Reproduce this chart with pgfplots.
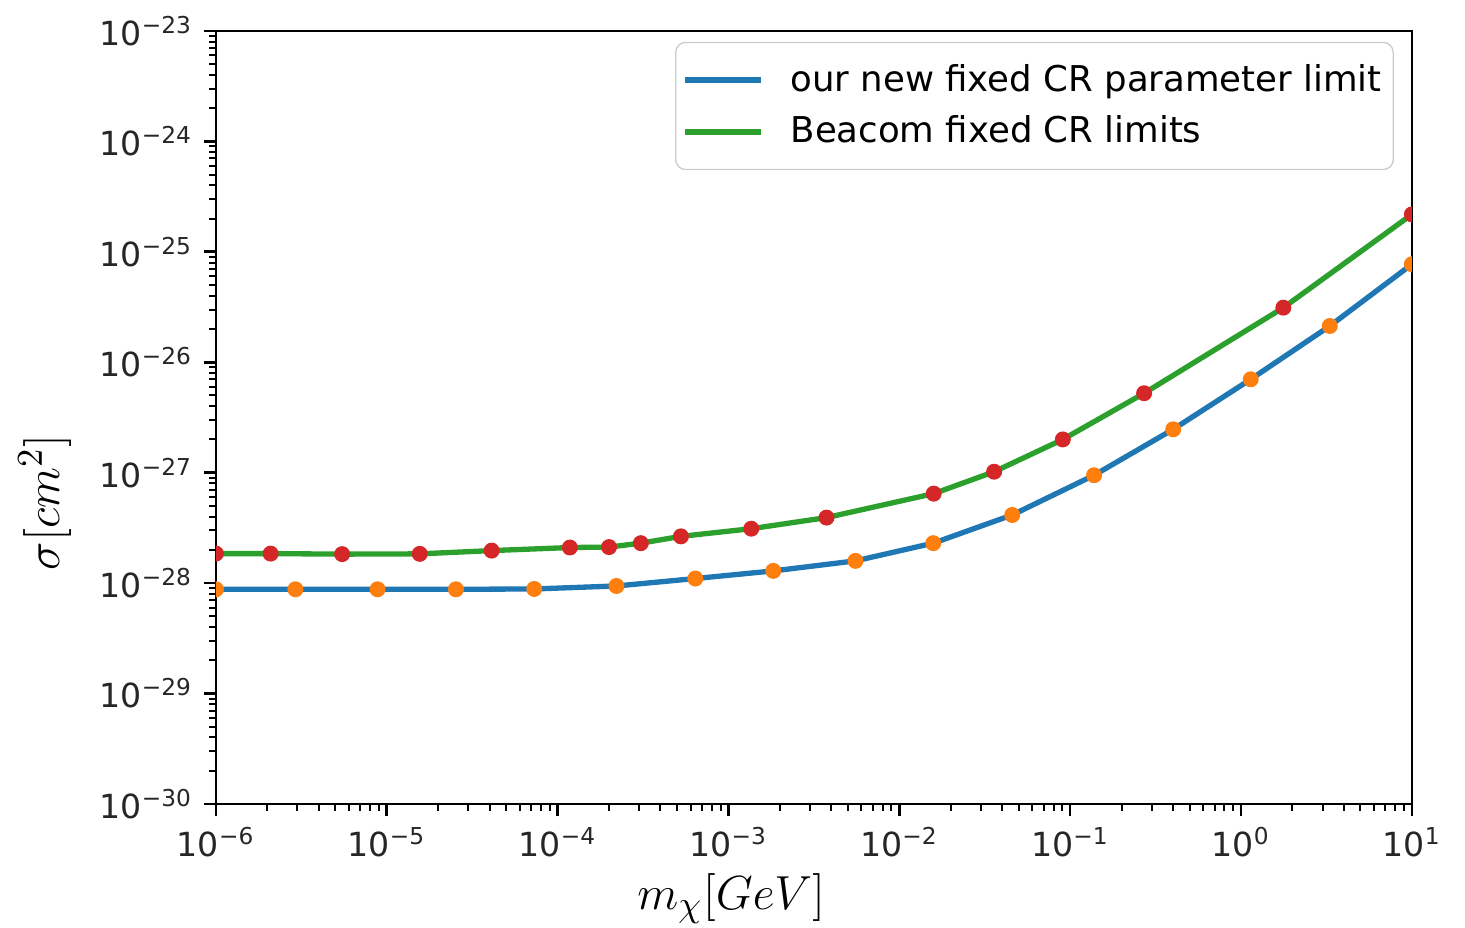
\documentclass[border=0pt]{standalone}
\usepackage{fontspec}
\setmainfont{DejaVu Sans}
\usepackage{pgfplots}
\usepackage{pgfplotstable}
\pgfplotsset{compat=1.18}
\definecolor{mplblue}{HTML}{1F77B4}
\definecolor{mplorange}{HTML}{FF7F0E}
\definecolor{mplgreen}{HTML}{2CA02C}
\definecolor{mplred}{HTML}{D62728}

\pgfplotstableread{
x y
1e-6 8.79e-29
2.92e-6 8.79e-29
8.83e-6 8.79e-29
2.54e-5 8.79e-29
7.30e-5 8.85e-29
2.21e-4 9.42e-29
6.40e-4 1.10e-28
1.83e-3 1.29e-28
5.54e-3 1.59e-28
1.58e-2 2.30e-28
4.58e-2 4.14e-28
0.138 9.48e-28
0.401 2.47e-27
1.14 7.01e-27
3.31 2.13e-26
10 7.71e-26
}\ours

\pgfplotstableread{
x y
1e-6 1.85e-28
2.09e-6 1.85e-28
5.48e-6 1.83e-28
1.56e-5 1.84e-28
4.11e-5 1.97e-28
1.18e-4 2.10e-28
2.00e-4 2.12e-28
3.07e-4 2.30e-28
5.27e-4 2.65e-28
1.36e-3 3.11e-28
3.75e-3 3.92e-28
1.59e-2 6.46e-28
3.59e-2 1.02e-27
9.06e-2 2.00e-27
0.271 5.24e-27
1.77 3.12e-26
10 2.18e-25
}\beacom

\begin{document}
\begin{tikzpicture}
\begin{axis}[
  scale only axis, width=360pt, height=232.7pt,
  xmode=log, ymode=log,
  xmin=1e-6, xmax=10, ymin=1e-30, ymax=1e-23,
  xtick={1e-6,1e-5,1e-4,1e-3,1e-2,1e-1,1,10},
  xticklabels={10\textsuperscript{−6},10\textsuperscript{−5},10\textsuperscript{−4},10\textsuperscript{−3},10\textsuperscript{−2},10\textsuperscript{−1},10\textsuperscript{0},10\textsuperscript{1}},
  ytick={1e-30,1e-29,1e-28,1e-27,1e-26,1e-25,1e-24,1e-23},
  yticklabels={10\textsuperscript{−30},10\textsuperscript{−29},10\textsuperscript{−28},10\textsuperscript{−27},10\textsuperscript{−26},10\textsuperscript{−25},10\textsuperscript{−24},10\textsuperscript{−23}},
  minor xtick={2e-6,3e-6,4e-6,5e-6,6e-6,7e-6,8e-6,9e-6,
    2e-5,3e-5,4e-5,5e-5,6e-5,7e-5,8e-5,9e-5,
    2e-4,3e-4,4e-4,5e-4,6e-4,7e-4,8e-4,9e-4,
    2e-3,3e-3,4e-3,5e-3,6e-3,7e-3,8e-3,9e-3,
    2e-2,3e-2,4e-2,5e-2,6e-2,7e-2,8e-2,9e-2,
    0.2,0.3,0.4,0.5,0.6,0.7,0.8,0.9,
    2,3,4,5,6,7,8,9},
  minor ytick={2e-30,3e-30,4e-30,5e-30,6e-30,7e-30,8e-30,9e-30,
    2e-29,3e-29,4e-29,5e-29,6e-29,7e-29,8e-29,9e-29,
    2e-28,3e-28,4e-28,5e-28,6e-28,7e-28,8e-28,9e-28,
    2e-27,3e-27,4e-27,5e-27,6e-27,7e-27,8e-27,9e-27,
    2e-26,3e-26,4e-26,5e-26,6e-26,7e-26,8e-26,9e-26,
    2e-25,3e-25,4e-25,5e-25,6e-25,7e-25,8e-25,9e-25,
    2e-24,3e-24,4e-24,5e-24,6e-24,7e-24,8e-24,9e-24},
  tick align=outside,
  xtick pos=left, ytick pos=left,
  major tick length=3.5pt, minor tick length=2pt,
  every tick/.style={black, line width=0.8pt},
  minor tick style={black, line width=0.6pt},
  axis line style={line width=0.8pt},
  ticklabel style={font=\fontsize{10}{12}\selectfont, text=black!85},
  xlabel={$m_\chi[GeV]$},
  xlabel style={at={(axis description cs:0.431,-0.122)}, anchor=center, inner sep=0pt, font=\fontsize{15}{18}\selectfont},
  ylabel={$\sigma[cm^2]$},
  ylabel style={at={(axis description cs:-0.143,0.39)}, anchor=center, inner sep=0pt, font=\fontsize{15}{18}\selectfont},
  clip marker paths=true,
  legend cell align=left,
  legend style={at={(0.985,0.986)}, anchor=north east, draw=black!20, rounded corners=3pt,
    fill=white, font=\fontsize{10.7}{12.8}\selectfont, inner xsep=2pt, inner ysep=5pt,
    row sep=3pt, nodes={inner sep=1.5pt},
    /tikz/every odd column/.append style={column sep=6.5pt}},
  legend image code/.code={\draw[#1, line width=1.6pt] (0pt,0pt) -- (23pt,0pt);},
]
\addplot[mplblue, line width=1.6pt, line join=round] table[x=x,y=y] {\ours};
\addlegendentry{our new fixed CR parameter limit}
\addplot[mplgreen, line width=1.6pt, line join=round] table[x=x,y=y] {\beacom};
\addlegendentry{Beacom fixed CR limits}
\addplot[mplorange, only marks, mark=*, mark size=2.2pt, forget plot] table[x=x,y=y] {\ours};
\addplot[mplred, only marks, mark=*, mark size=2.2pt, forget plot] table[x=x,y=y] {\beacom};
\end{axis}
\path (current axis.south west) ++(-65pt,-37.3pt) rectangle ++(441pt,279.3pt);
\end{tikzpicture}
\end{document}
